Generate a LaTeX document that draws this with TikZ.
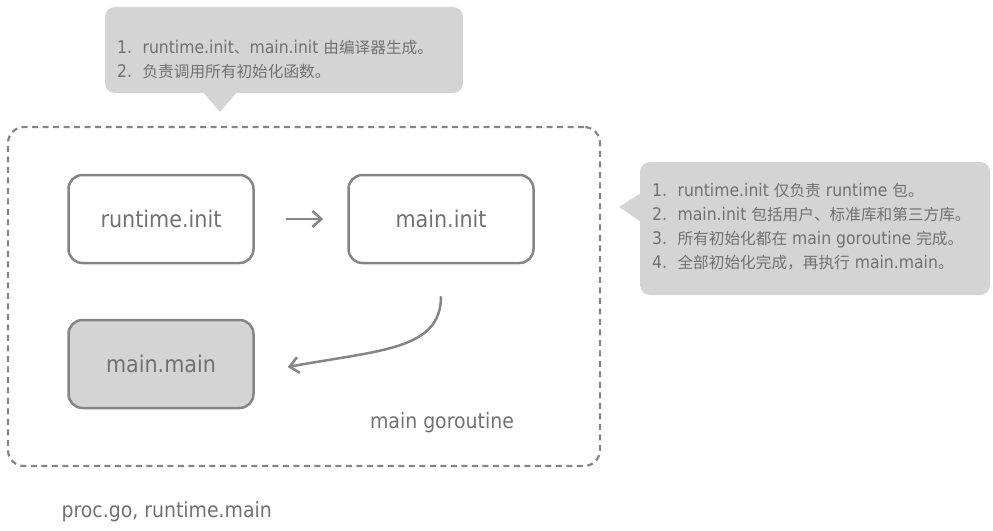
\documentclass[tikz,border=0pt]{standalone}
\usepackage{fontspec}
\usetikzlibrary{arrows.meta}
\setmainfont{DejaVu Sans Condensed}
\newfontfamily\cjk[Scale=0.9]{Noto Sans CJK SC}
\definecolor{edgegray}{HTML}{858585}
\definecolor{labelgray}{HTML}{717171}
\definecolor{notegray}{HTML}{D4D4D4}
\tikzstyle{initbox}=[rectangle,rounded corners=14pt,draw=edgegray,
                     line width=2.5pt,fill=white,text=labelgray,
                     minimum width=185pt,minimum height=88pt,
                     font=\fontsize{23}{26}\selectfont]
\tikzstyle{mainbox}=[initbox,fill=notegray]
\tikzstyle{notebox}=[rectangle,rounded corners=10pt,fill=notegray,
                     inner sep=0pt]
\tikzstyle{notetext}=[align=left,anchor=west,inner sep=0pt,text=labelgray,
                      font=\fontsize{17.4}{24}\selectfont]
\tikzstyle{flow}=[edgegray,line width=2.5pt,
                  -{Straight Barb[length=9pt,width=16pt]}]
\newcommand{\nr}[1]{#1.\hspace{.6em}}

\begin{document}
\begin{tikzpicture}[x=1pt,y=-1pt]
    \useasboundingbox (0,0) rectangle (993,530);
    % goroutine frame
    \node (goroutine) at (304,296.5) [rectangle,draw=edgegray,line width=2.2pt,
        dash pattern=on 6pt off 4.5pt,rounded corners=16pt,
        minimum width=592pt,minimum height=339pt]{};
    \node (gorlabel) at (442,428) [anchor=base,text=labelgray,
        font=\fontsize{21}{24}\selectfont]{main goroutine};
    \node (rinit) at (161,219) [initbox]{runtime.init};
    \node (minit) at (441,219) [initbox]{main.init};
    \node (mmain) at (161,364) [mainbox]{main.main};
    \coordinate (tipend) at ([xshift=33pt,yshift=-3pt]mmain.east);
    \draw[flow,shorten <=31pt,shorten >=24pt] (rinit) -- (minit);
    \draw[flow,shorten <=32pt] (minit.south) .. controls +(0,86)
        and +(92,-17) .. (tipend);
    % callouts
    \node (notea) at (284,50) [notebox,minimum width=358pt,
        minimum height=86pt]{};
    \fill[notegray] (203,92) -- (220,112) -- (237,92) -- cycle;
    \node (noteatext) at (117,60) [notetext]{%
        \nr{1}runtime.init{\cjk 、}main.init {\cjk 由编译器生成。}\\
        \nr{2}{\cjk 负责调用所有初始化函数。}};
    \node (noteb) at (815,228.5) [notebox,minimum width=350pt,
        minimum height=133pt]{};
    \fill[notegray] (641,193) -- (619,207) -- (641,222) -- cycle;
    \node (notebtext) at (652,227) [notetext]{%
        \nr{1}runtime.init {\cjk 仅负责} runtime {\cjk 包。}\\
        \nr{2}main.init {\cjk 包括用户、标准库和第三方库。}\\
        \nr{3}{\cjk 所有初始化都在} main goroutine {\cjk 完成。}\\
        \nr{4}{\cjk 全部初始化完成，再执行} main.main{\cjk 。}};
    \node (srcnote) at (58,517) [anchor=base west,text=labelgray,
        font=\fontsize{21}{24}\selectfont]{proc.go, runtime.main};
\end{tikzpicture}
\end{document}
